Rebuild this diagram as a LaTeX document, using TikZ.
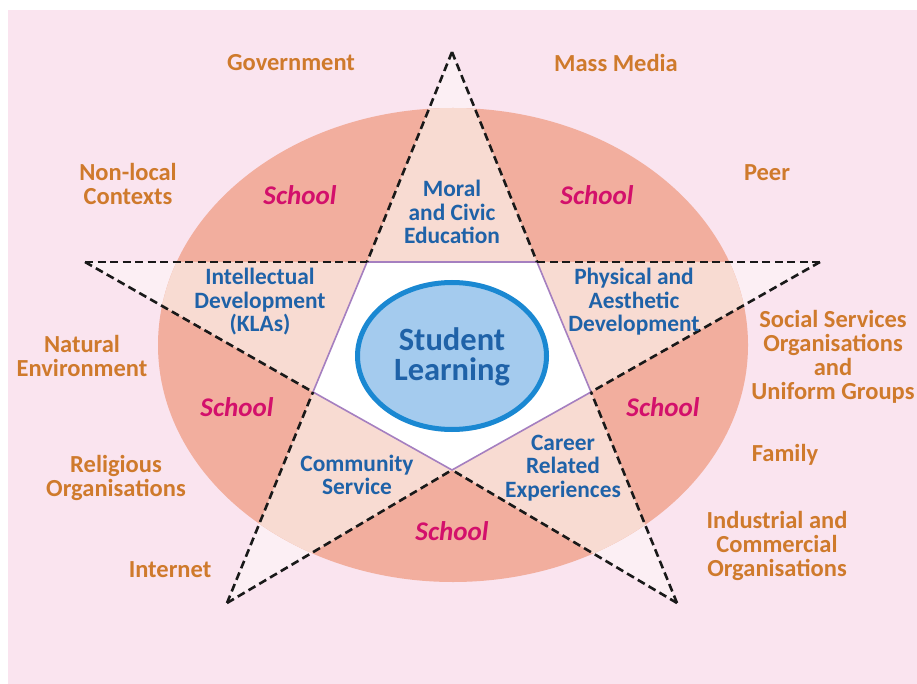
\documentclass[tikz,border=0pt]{standalone}
\usepackage{fontspec}
\setmainfont{Carlito}
\usetikzlibrary{shapes.geometric}
\definecolor{bgpink}{HTML}{FAE4EF}
\definecolor{salmon}{HTML}{F2AE9E}
\definecolor{peach}{HTML}{F8DBD2}
\definecolor{pale}{HTML}{FCEFF4}
\definecolor{orangetxt}{HTML}{CF7A2C}
\definecolor{bluetxt}{HTML}{1F62A8}
\definecolor{magtxt}{HTML}{D3106B}
\definecolor{centerfill}{HTML}{A4CBEE}
\definecolor{centerline}{HTML}{1A88D2}
\definecolor{pentline}{HTML}{A57FC0}
\tikzset{
  outer/.style={font=\bfseries\fontsize{24.5}{24}\selectfont, text=orangetxt, align=center, inner sep=0pt},
  inner/.style={font=\bfseries\fontsize{23.4}{23.5}\selectfont, text=bluetxt, align=center, inner sep=0pt},
  school/.style={font=\bfseries\itshape\fontsize{27}{27}\selectfont, text=magtxt, inner sep=0pt},
  dashline/.style={draw=black!90, line width=2.6pt, dash pattern=on 8pt off 4.5pt},
  pentside/.style={draw=pentline, line width=1.6pt}
}
\begin{document}
\begin{tikzpicture}[x=1pt,y=-1pt]
\useasboundingbox (0,0) rectangle (917,684);
\fill[white] (0,0) rectangle (917,684);
\fill[bgpink] (8,10) rectangle (917,684);
% star coordinates
\coordinate (T) at (452,52);
\coordinate (R) at (820,262);
\coordinate (BR) at (677,603);
\coordinate (BL) at (227,603);
\coordinate (L) at (85,262);
\coordinate (P1) at (367,262);
\coordinate (P2) at (537,262);
\coordinate (P3) at (591,392);
\coordinate (P4) at (452,470);
\coordinate (P5) at (313,392);
% pale star
\fill[pale] (T) -- (P2) -- (R) -- (P3) -- (BR) -- (P4) -- (BL) -- (P5) -- (L) -- (P1) -- cycle;
% ellipse
\fill[salmon] (453,345) ellipse [x radius=295, y radius=237];
\begin{scope}
\clip (453,345) ellipse [x radius=295, y radius=237];
\fill[peach] (T) -- (P2) -- (R) -- (P3) -- (BR) -- (P4) -- (BL) -- (P5) -- (L) -- (P1) -- cycle;
\end{scope}
% pentagon
\fill[white] (P1) -- (P2) -- (P3) -- (P4) -- (P5) -- cycle;
\draw[pentside, line join=round] (P1) -- (P2) -- (P3) -- (P4) -- (P5) -- cycle;
% dashed star edges
\draw[dashline] (T) -- (P1);
\draw[dashline] (T) -- (P2);
\draw[dashline] (L) -- (P1);
\draw[dashline] (L) -- (P5);
\draw[dashline] (R) -- (P2);
\draw[dashline] (R) -- (P3);
\draw[dashline] (BR) -- (P3);
\draw[dashline] (BR) -- (P4);
\draw[dashline] (BL) -- (P4);
\draw[dashline] (BL) -- (P5);
% center
\node[ellipse, minimum width=189pt, minimum height=147pt, fill=centerfill, draw=centerline, line width=5pt, inner sep=0pt] (center) at (452,356) {};
\node[font=\bfseries\fontsize{32.5}{30}\selectfont, text=bluetxt, align=center, inner sep=0pt] (sl) at (452,357) {Student\\Learning};
% outer labels
\node[outer] (gov) at (291,63) {Government};
\node[outer] (mm) at (616,63) {Mass Media};
\node[outer] (nl) at (128,184) {Non-local\\Contexts};
\node[outer] (peer) at (767,173) {Peer};
\node[outer] (ne) at (82,356) {Natural\\Environment};
\node[outer] (ss) at (833,357) {Social Services\\Organisations\\and\\Uniform Groups};
\node[outer] (ro) at (116,478) {Religious\\Organisations};
\node[outer] (fam) at (785,455) {Family};
\node[outer] (ic) at (777,546) {Industrial and\\Commercial\\Organisations};
\node[outer] (net) at (170,570) {Internet};
% school labels
\node[school] (s1) at (300,195) {School};
\node[school] (s2) at (597,195) {School};
\node[school] (s3) at (237,407) {School};
\node[school] (s4) at (663,407) {School};
\node[school] (s5) at (452,531) {School};
% inner labels
\node[inner] (mce) at (452,212) {Moral\\and Civic\\Education};
\node[inner] (idk) at (260,302) {Intellectual\\Development\\(KLAs)};
\node[inner] (pad) at (634,302) {Physical and\\Aesthetic\\Development};
\node[inner] (cs) at (357,475) {Community\\Service};
\node[inner] (cre) at (563,468) {Career\\Related\\Experiences};
\end{tikzpicture}
\end{document}
